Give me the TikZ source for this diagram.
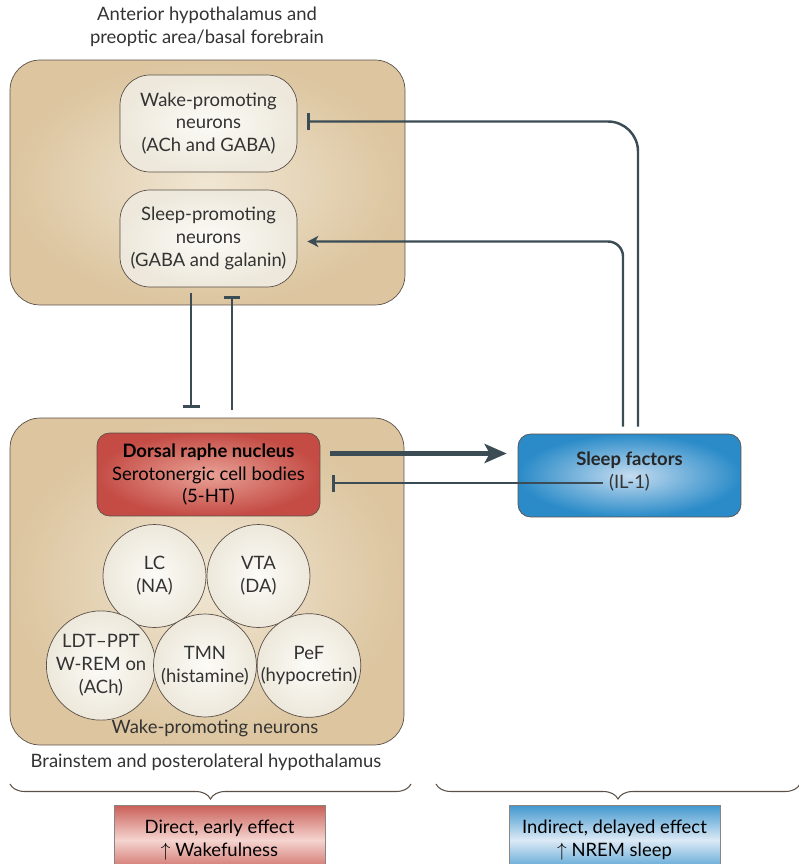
\documentclass[tikz,border=0pt]{standalone}
\usepackage{fontspec}
\setmainfont{Lato}
\usetikzlibrary{arrows.meta, shapes.geometric,
decorations.pathreplacing, calc,
positioning }
\definecolor{tanout}{HTML}{DCC59F}
\definecolor{tanin}{HTML}{F0E6D3}
\definecolor{creamout}{HTML}{EDE8DB}
\definecolor{creamin}{HTML}{FCFBF7}
\definecolor{edge}{HTML}{5A5048}
\definecolor{wire}{HTML}{3C4C55}
\definecolor{redout}{HTML}{C44C45}
\definecolor{redin}{HTML}{E9A196}
\definecolor{blueout}{HTML}{2A8BC8}
\definecolor{bluein}{HTML}{C5DCF0}
\definecolor{txt}{HTML}{333333}
\tikzset{%
>={Stealth[width=2.2mm,length=2.2mm,inset=0.6mm]},
  % Specifications for style of nodes:
            region/.style = {rectangle, rounded corners=0.6cm, draw=edge,
                            inner color=tanin, outer color=tanout},
            cellbox/.style = {rectangle, rounded corners=0.6cm, draw=edge,
                            inner color=creamin, outer color=creamout,
                            minimum width=3.54cm, minimum height=1.94cm, text=txt},
            cell/.style = {circle, draw=edge, inner color=creamin,
                            outer color=creamout, minimum size=2.06cm, inner sep=0pt, text=txt},
            hub/.style = {rectangle, rounded corners=0.25cm, draw=edge,
                            minimum width=4.46cm, minimum height=1.66cm},
            effect/.style = {rectangle, draw=edge!70, minimum width=4.22cm,
                            minimum height=1.4cm},
            inhib/.style = {draw=wire, line width=1.4pt, -{Bar[width=3.4mm]}},
            excit/.style = {draw=wire, line width=1.4pt, ->},
            plain/.style = {text=txt}
}
\begin{document}
\begin{tikzpicture}[x=0.02cm, y=-0.02cm, node distance=2.08cm, align=center,
                    font=\fontsize{10.5}{13}\selectfont]
\useasboundingbox (0,0) rectangle (798,864);
% forebrain side
\node[plain] (toplabel) at (207,27) {Anterior hypothalamus and\\preoptic area/basal forebrain};
\node[region, minimum width=7.9cm, minimum height=4.9cm] (fore) at (207.5,182.5) {};
\node[cellbox] (wake) at (208.5,123.5) {Wake-promoting\\neurons\\(ACh and GABA)};
\node[cellbox] (sleep) at (208.5,238.5) {Sleep-promoting\\neurons\\(GABA and galanin)};
% brainstem side
\node[region, minimum width=7.88cm, minimum height=6.54cm] (brain) at (207,581.5) {};
\node[hub, inner color=redin, outer color=redout] (drn) at (208.5,474.5)
    {\textbf{Dorsal raphe nucleus}\\Serotonergic cell bodies\\(5-HT)};
\node[cell] (lc) at (154.5,576) {LC\\(NA)};
\node[cell] (vta)[right of=lc] {VTA\\(DA)};
\node[cell] (ldt) at (101,665.5) {LDT--PPT\\W-REM on\\(ACh)};
\node[cell] (tmn)[right of=ldt] {TMN\\(histamine)};
\node[cell] (pef)[right of=tmn] {PeF\\(hypocretin)};
\node[plain] (wakelabel) at (215,728) {Wake-promoting neurons};
\node[plain] (brainlabel) at (206,762) {Brainstem and posterolateral hypothalamus};
% sleep factors
\node[hub, inner color=bluein, outer color=blueout] (sf) at (629.5,475.5) {};
\node[text=black!85] (sftitle) at (629.5,460) {\textbf{Sleep factors}};
\node[plain] (il) at (629.5,483) {(IL-1)};
% connections
\draw[inhib, shorten <=0.12cm, shorten >=0.2cm] ([xshift=-0.35cm]sleep.south) -- ([xshift=-0.35cm]sleep.south |- brain.north);
\draw[inhib, shorten <=0.16cm, shorten >=0.18cm] ([xshift=0.47cm]sleep.south |- brain.north) -- ([xshift=0.47cm]sleep.south);
\draw[draw=wire, line width=3.4pt, -{Stealth[width=3.8mm,length=4.4mm,inset=1mm]}, shorten <=0.2cm, shorten >=0.22cm]
    ($(drn.east)+(0,-21)$) -- ($(sf.west)+(0,-22)$);
\draw[inhib, shorten >=0.24cm] (il.west) -- (il.west -| drn.east);
\draw[inhib, rounded corners=0.6cm, shorten <=0.14cm, shorten >=0.2cm] ([xshift=0.17cm]sf.north) |- ($(wake.east)+(0,-2)$);
\draw[excit, rounded corners=0.3cm, shorten <=0.14cm, shorten >=0.2cm] ([xshift=-0.13cm]sf.north) |- ($(sleep.east)+(0,3)$);
% braces and effects
\draw[edge, line width=0.6pt, decorate, decoration={brace, mirror, amplitude=0.3cm}] (10,784) -- (411,784);
\draw[edge, line width=0.6pt, decorate, decoration={brace, mirror, amplitude=0.3cm}] (436,784) -- (800,784);
\node[effect, top color=redout!90, bottom color=redout!90, middle color=redin!45] (direct) at (219.5,840)
    {Direct, early effect\\$\uparrow$ Wakefulness};
\node[effect, top color=blueout!90, bottom color=blueout!90, middle color=bluein!60] (indirect) at (614.5,840)
    {Indirect, delayed effect\\$\uparrow$ NREM sleep};
\end{tikzpicture}
\end{document}
